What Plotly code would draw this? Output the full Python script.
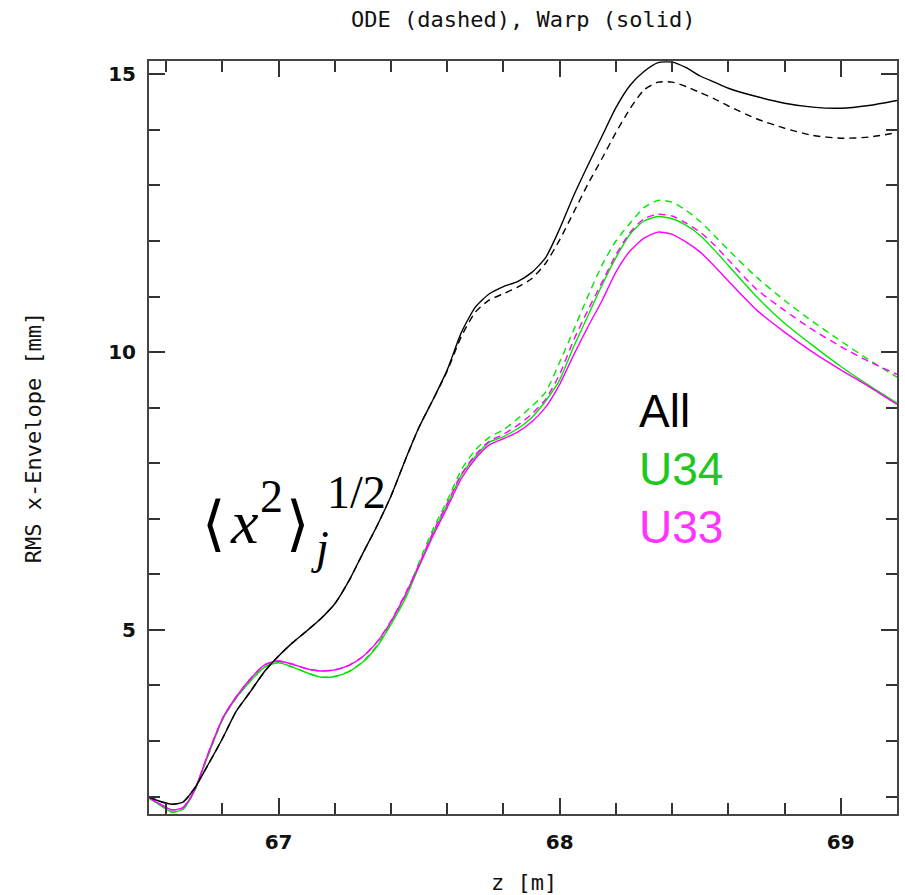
import plotly.graph_objects as go

# ---------------- data ----------------
z = [66.54, 66.58, 66.62, 66.66, 66.70, 66.75, 66.80, 66.85, 66.90, 66.95,
     67.00, 67.05, 67.10, 67.15, 67.20, 67.25, 67.30, 67.35, 67.40, 67.45,
     67.50, 67.55, 67.60, 67.65, 67.70, 67.75, 67.80, 67.85, 67.90, 67.95,
     68.00, 68.05, 68.10, 68.15, 68.20, 68.25, 68.30, 68.35, 68.40, 68.45,
     68.50, 68.55, 68.60, 68.70, 68.80, 68.90, 69.00, 69.10, 69.20]

all_warp = [1.99, 1.91, 1.86, 1.90, 2.14, 2.58, 3.04, 3.54, 3.89, 4.25,
            4.53, 4.77, 4.98, 5.20, 5.47, 5.88, 6.38, 6.87, 7.41, 8.05,
            8.65, 9.15, 9.68, 10.35, 10.81, 11.05, 11.18, 11.27, 11.43, 11.70,
            12.22, 12.82, 13.36, 13.88, 14.40, 14.80, 15.05, 15.21, 15.22, 15.12,
            14.97, 14.86, 14.75, 14.60, 14.48, 14.41, 14.39, 14.44, 14.53]

all_ode = [1.99, 1.91, 1.86, 1.90, 2.14, 2.58, 3.04, 3.54, 3.89, 4.25,
           4.53, 4.77, 4.98, 5.20, 5.47, 5.88, 6.38, 6.87, 7.41, 8.05,
           8.65, 9.15, 9.66, 10.28, 10.72, 10.94, 11.05, 11.17, 11.32, 11.60,
           12.02, 12.52, 13.02, 13.48, 13.95, 14.38, 14.72, 14.86, 14.86, 14.78,
           14.67, 14.56, 14.43, 14.20, 14.03, 13.90, 13.85, 13.87, 13.95]

u34_warp = [1.97, 1.84, 1.72, 1.77, 2.09, 2.75, 3.38, 3.78, 4.08, 4.33,
            4.41, 4.33, 4.23, 4.15, 4.16, 4.25, 4.42, 4.70, 5.10, 5.55,
            6.15, 6.75, 7.25, 7.78, 8.12, 8.38, 8.48, 8.62, 8.82, 9.12,
            9.50, 10.10, 10.65, 11.20, 11.70, 12.12, 12.36, 12.44, 12.40, 12.28,
            12.10, 11.84, 11.56, 11.00, 10.52, 10.12, 9.74, 9.40, 9.08]

u34_ode = [1.97, 1.84, 1.72, 1.77, 2.09, 2.75, 3.38, 3.78, 4.08, 4.33,
           4.41, 4.33, 4.23, 4.15, 4.16, 4.25, 4.43, 4.72, 5.13, 5.60,
           6.22, 6.82, 7.33, 7.88, 8.24, 8.47, 8.60, 8.80, 9.02, 9.28,
           9.82, 10.40, 11.00, 11.56, 12.00, 12.32, 12.60, 12.73, 12.70, 12.55,
           12.35, 12.10, 11.84, 11.35, 10.93, 10.55, 10.20, 9.86, 9.55]

u33_warp = [1.97, 1.86, 1.76, 1.80, 2.10, 2.78, 3.40, 3.80, 4.12, 4.37,
            4.44, 4.38, 4.30, 4.26, 4.28, 4.36, 4.52, 4.78, 5.15, 5.62,
            6.15, 6.70, 7.20, 7.72, 8.08, 8.33, 8.44, 8.56, 8.74, 9.01,
            9.42, 9.95, 10.45, 10.92, 11.44, 11.82, 12.05, 12.16, 12.12, 11.98,
            11.80, 11.55, 11.28, 10.76, 10.36, 10.00, 9.68, 9.38, 9.06]

u33_ode = [1.97, 1.86, 1.76, 1.80, 2.10, 2.78, 3.40, 3.80, 4.12, 4.37,
           4.44, 4.38, 4.30, 4.26, 4.28, 4.36, 4.52, 4.78, 5.16, 5.64,
           6.18, 6.76, 7.28, 7.80, 8.15, 8.40, 8.52, 8.68, 8.88, 9.15,
           9.60, 10.22, 10.75, 11.25, 11.75, 12.15, 12.40, 12.48, 12.45, 12.32,
           12.16, 11.93, 11.66, 11.13, 10.75, 10.40, 10.10, 9.83, 9.60]

x_ticks = [67, 68, 69]
y_ticks = [5, 10, 15]

# ---------------- layout constants ----------------
W, H = 905, 895
L, R, T, B = 149, 899, 61, 814
GREEN = "#00e600"
MAGENTA = "#ff00ff"


def xp(px):
    return (px - L) / (R - L)


def yp(py):
    return (B - py) / (B - T)


fig = go.Figure()
DASH = "7px,5px"
series = [
    (u34_ode, GREEN, DASH),
    (u34_warp, GREEN, "solid"),
    (u33_ode, MAGENTA, DASH),
    (u33_warp, MAGENTA, "solid"),
    (all_ode, "black", DASH),
    (all_warp, "black", "solid"),
]
for vals, col, dash in series:
    fig.add_trace(go.Scatter(x=z, y=vals, mode="lines",
                             line=dict(color=col, width=1.4, dash=dash,
                                       shape="spline", smoothing=0.6),
                             showlegend=False, hoverinfo="skip"))

axis_common = dict(showline=True, linecolor="#444444", linewidth=2,
                   mirror="ticks", ticks="inside", ticklen=16, tickwidth=2,
                   tickcolor="#333333", showgrid=False, zeroline=False,
                   tickfont=dict(family="DejaVu Sans", size=20, color="#111111",
                                 weight="bold"))

fig.update_xaxes(range=[66.539, 69.2], tickvals=x_ticks,
                 ticktext=[str(v) for v in x_ticks],
                 minor=dict(ticks="inside", ticklen=11, tickwidth=2,
                            tickcolor="#333333", dtick=0.2, tick0=66.0,
                            showgrid=False),
                 ticklabelstandoff=9, **axis_common)
fig.update_yaxes(range=[1.685, 15.24], tickvals=y_ticks,
                 ticktext=[str(v) for v in y_ticks],
                 minor=dict(ticks="inside", ticklen=11, tickwidth=2,
                            tickcolor="#333333", dtick=1, tick0=0,
                            showgrid=False),
                 ticklabelstandoff=7, **axis_common)

MONO = "DejaVu Sans Mono"
ann = []
# title and axis titles
ann.append(dict(text="ODE (dashed), Warp (solid)", x=xp(524), y=yp(19),
                font=dict(family=MONO, size=22, color="#111111")))
ann.append(dict(text="RMS x-Envelope [mm]", x=xp(33), y=yp(437), textangle=-90,
                font=dict(family=MONO, size=22, color="#111111")))
ann.append(dict(text="z [m]", x=xp(525), y=yp(883),
                font=dict(family=MONO, size=22, color="#111111")))

# labels
SANS = "Liberation Sans"
ann.append(dict(text="All", x=xp(638), y=yp(411), xanchor="left",
                font=dict(family=SANS, size=46, color="black")))
ann.append(dict(text="U34", x=xp(638), y=yp(469), xanchor="left",
                font=dict(family=SANS, size=46, color="#1ec81e")))
ann.append(dict(text="U33", x=xp(638), y=yp(527), xanchor="left",
                font=dict(family=SANS, size=46, color="#ff33ff")))

# math expression <x^2>_j^{1/2}
SERIF = "Liberation Serif"
ann.append(dict(text="\u27e8", x=xp(214), y=yp(523),
                font=dict(family="DejaVu Serif", size=60, color="black")))
ann.append(dict(text="<i>x</i>", x=xp(245), y=yp(522),
                font=dict(family=SERIF, size=62, color="black")))
ann.append(dict(text="2", x=xp(272), y=yp(497),
                font=dict(family=SERIF, size=46, color="black")))
ann.append(dict(text="\u27e9", x=xp(298), y=yp(523),
                font=dict(family="DejaVu Serif", size=60, color="black")))
ann.append(dict(text="1/2", x=xp(357), y=yp(493),
                font=dict(family=SERIF, size=46, color="black")))
ann.append(dict(text="<i>j</i>", x=xp(320), y=yp(547),
                font=dict(family=SERIF, size=46, color="black")))

for a in ann:
    a.setdefault("xanchor", "center")
    a.setdefault("yanchor", "middle")
    a.update(xref="paper", yref="paper", showarrow=False)

fig.update_layout(width=W, height=H, margin=dict(l=L, r=W - R, t=T, b=H - B),
                  paper_bgcolor="white", plot_bgcolor="white",
                  annotations=ann)

fig.write_html("out.html")
